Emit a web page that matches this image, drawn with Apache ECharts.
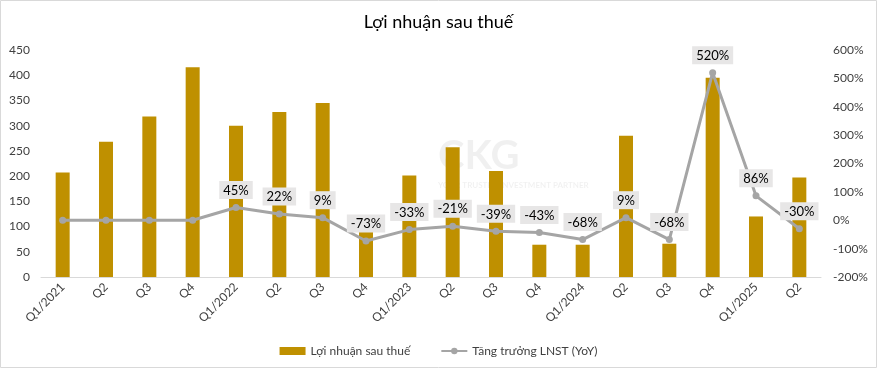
<!DOCTYPE html>
<html><head><meta charset="utf-8">
<script src="https://cdn.jsdelivr.net/npm/echarts@6/dist/echarts.min.js"></script>
<style>html,body{margin:0;padding:0;background:#fff}#c{width:877px;height:370px}</style>
</head><body><div id="c"></div>
<script>
const categories = ['Q1/2021','Q2','Q3','Q4','Q1/2022','Q2','Q3','Q4','Q1/2023','Q2','Q3','Q4','Q1/2024','Q2','Q3','Q4','Q1/2025','Q2'];
const profit = [207,268,318,416,300,327,345,112,201,257,210,64,64,280,66,395,120,197];
const growth = [0,0,0,0,45,22,9,-73,-33,-21,-39,-43,-68,9,-68,520,86,-30];
const growthLabels = [null,null,null,null,'45%','22%','9%','-73%','-33%','-21%','-39%','-43%','-68%','9%','-68%','520%','86%','-30%'];
const leftTicks = [0,450,50];
const rightTicks = [-200,600,100];

const growthData = growth.map((v,i)=>growthLabels[i]===null ? {value:v,label:{show:false}} : {value:v});

const chart = echarts.init(document.getElementById('c'));
const F = 'Lato';
chart.setOption({
  animation:false,
  textStyle:{fontFamily:F},
  title:{text:'Lợi nhuận sau thuế',left:'center',top:8,textStyle:{fontFamily:F,fontSize:18,fontWeight:'normal',color:'#000'}},
  graphic:[
    {type:'rect',shape:{x:0.5,y:0.5,width:876,height:367},style:{fill:'none',stroke:'#d9d9d9',lineWidth:1},z:-10},
    {type:'text',left:438,top:136,style:{text:'CKG',fontFamily:F,fontSize:40,fontWeight:'bold',fill:'rgba(0,0,0,0.06)'},z:-5},
    {type:'text',left:438,top:181,style:{text:'YOUR TRUSTED INVESTMENT PARTNER',fontFamily:F,fontSize:8,fontWeight:'bold',fill:'rgba(0,0,0,0.06)'},z:-5}
  ],
  legend:{bottom:8,left:'center',itemGap:30,textStyle:{fontFamily:F,fontSize:12,color:'#404040'},
    data:[{name:'Lợi nhuận sau thuế',icon:'rect',itemStyle:{color:'#BF9000'}},{name:'Tăng trưởng LNST (YoY)'}],
    itemWidth:26,itemHeight:8},
  grid:{left:41,right:56,top:50,bottom:93},
  xAxis:{type:'category',data:categories,
    axisLine:{lineStyle:{color:'#d9d9d9'}},axisTick:{show:false},
    axisLabel:{rotate:45,color:'#404040',fontSize:12,fontFamily:F,margin:8,interval:0}},
  yAxis:[
    {type:'value',min:leftTicks[0],max:leftTicks[1],interval:leftTicks[2],splitLine:{show:false},
      axisLabel:{color:'#404040',fontSize:12,fontFamily:F,margin:11}},
    {type:'value',min:rightTicks[0],max:rightTicks[1],interval:rightTicks[2],splitLine:{show:false},
      axisLabel:{color:'#404040',fontSize:12,fontFamily:F,formatter:'{value}%',margin:12}}
  ],
  series:[
    {name:'Lợi nhuận sau thuế',type:'bar',data:profit,barWidth:14,itemStyle:{color:'#BF9000'},z:1},
    {name:'Tăng trưởng LNST (YoY)',type:'line',yAxisIndex:1,data:growthData,
      lineStyle:{color:'#A5A5A5',width:3},itemStyle:{color:'#A5A5A5'},symbol:'circle',symbolSize:7,z:3,
      label:{show:true,position:'top',distance:5,formatter:p=>growthLabels[p.dataIndex]||'',
        backgroundColor:'#E7E6E6',padding:[3,4,2,4],color:'#000',fontSize:13,fontFamily:F}}
  ]
});
</script></body></html>
